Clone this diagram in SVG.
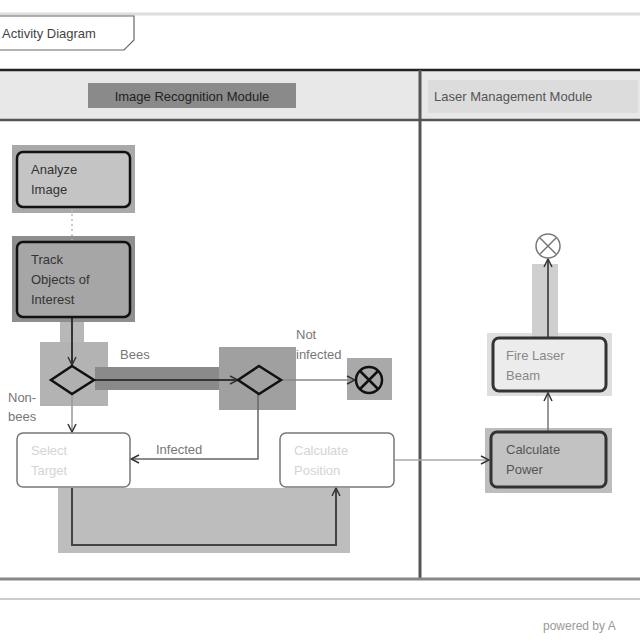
<svg xmlns="http://www.w3.org/2000/svg" width="640" height="640" viewBox="0 0 640 640">
<defs>
<style>
text{font-family:"Liberation Sans",Arial,sans-serif;font-size:13px;fill:#333}
.node{stroke:#111;stroke-width:2.5}
.faint{fill:#fff;stroke:#777;stroke-width:1.5}
.ftext{fill:#d4d4d4}
.lbl{fill:#777}
.conn{fill:none;stroke:#555;stroke-width:1.5}
.hl{fill:#a9a9a9}
</style>
<marker id="arr" markerWidth="10" markerHeight="10" refX="9" refY="5" orient="auto" markerUnits="userSpaceOnUse">
<path d="M1,1 L9,5 L1,9" fill="none" stroke="#333" stroke-width="1.5"/>
</marker>
</defs>
<rect width="640" height="640" fill="#fff"/>
<g id="frame">
<line x1="0" y1="14" x2="640" y2="14" stroke="#ddd" stroke-width="3"/>
<path d="M0,16 L134,16 L134,40 L124,50 L0,50" fill="#fff" stroke="#666" stroke-width="1.2"/>
<text x="2" y="38" style="fill:#444">Activity Diagram</text>
<rect x="0" y="70" width="640" height="50" fill="#e8e8e8"/>
<line x1="0" y1="70" x2="640" y2="70" stroke="#222" stroke-width="2.5"/>
<line x1="0" y1="120" x2="640" y2="120" stroke="#555" stroke-width="2.5"/>
<line x1="420" y1="70" x2="420" y2="580" stroke="#555" stroke-width="3"/>
<line x1="0" y1="579" x2="640" y2="579" stroke="#888" stroke-width="3"/>
<line x1="0" y1="599" x2="640" y2="599" stroke="#bbb" stroke-width="1.5"/>
<text x="543" y="630" style="font-size:12px;fill:#999">powered by A</text>
</g>
<g id="lane-image">
<rect x="88" y="83" width="208" height="25" fill="#8a8a8a"/>
<text x="192" y="101" text-anchor="middle" style="fill:#222">Image Recognition Module</text>
</g>
<g id="lane-laser">
<rect x="428" y="80" width="210" height="33" fill="#dcdcdc"/>
<text x="434" y="101" style="fill:#555">Laser Management Module</text>
</g>
<g id="highlights">
<rect class="hl" x="12" y="145" width="123" height="68"/>
<rect x="12" y="236" width="123" height="86" fill="#8e8e8e"/>
<rect x="60" y="322" width="24" height="25" fill="#b8b8b8"/>
<rect x="40" y="342" width="68" height="64" fill="#b3b3b3"/>
<rect x="95" y="367" width="145" height="23" fill="#8a8a8a"/>
<rect x="219" y="347" width="77" height="63" fill="#a0a0a0"/>
<rect x="347" y="358" width="45" height="42" fill="#a9a9a9"/>
<rect x="58" y="488" width="292" height="65" fill="#bdbdbd"/>
<rect x="485" y="428" width="127" height="65" fill="#bdbdbd"/>
<rect x="487" y="333" width="125" height="63" fill="#dedede"/>
<rect x="532" y="264" width="26" height="74" fill="#cfcfcf"/>
</g>
<g id="connectors">
<line class="conn" x1="72" y1="209" x2="72" y2="240" stroke-dasharray="2,3" style="stroke:#bbb"/>
<line class="conn" x1="72" y1="318" x2="72" y2="365" marker-end="url(#arr)" style="stroke:#333;stroke-width:2"/>
<line class="conn" x1="94" y1="380" x2="238" y2="380" marker-end="url(#arr)" style="stroke:#333;stroke-width:2"/>
<line class="conn" x1="281" y1="380" x2="355" y2="380" marker-end="url(#arr)" style="stroke:#888"/>
<polyline class="conn" points="258,394 258,459 131,459" marker-end="url(#arr)" style="stroke:#666"/>
<line class="conn" x1="72" y1="395" x2="72" y2="432" marker-end="url(#arr)" style="stroke:#999"/>
<polyline class="conn" points="72,488 72,545 336,545 336,488" marker-end="url(#arr)" style="stroke:#444;stroke-width:2"/>
<line class="conn" x1="395" y1="460" x2="489" y2="460" marker-end="url(#arr)" style="stroke:#aaa"/>
<line class="conn" x1="548" y1="432" x2="548" y2="393" marker-end="url(#arr)" style="stroke:#777"/>
<line class="conn" x1="548" y1="337" x2="548" y2="259" marker-end="url(#arr)" style="stroke:#555;stroke-width:2"/>
<text class="lbl" x="120" y="359">Bees</text>
<text class="lbl" x="296" y="339">Not</text>
<text class="lbl" x="296" y="359">infected</text>
<text class="lbl" x="8" y="402">Non-</text>
<text class="lbl" x="8" y="421">bees</text>
<text class="lbl" x="156" y="454">Infected</text>
</g>
<g id="analyze-image">
<rect class="node" x="17" y="152" width="113" height="55" rx="6" fill="#c4c4c4"/>
<text x="31" y="174">Analyze</text>
<text x="31" y="194">Image</text>
</g>
<g id="track-objects">
<rect class="node" x="17" y="242" width="113" height="75" rx="6" fill="#a6a6a6"/>
<text x="31" y="264">Track</text>
<text x="31" y="284">Objects of</text>
<text x="31" y="304">Interest</text>
</g>
<g id="decision-bees">
<polygon points="72,366 94,380 72,394 51,380" fill="#b0b0b0" stroke="#111" stroke-width="2.5"/>
</g>
<g id="decision-infected">
<polygon points="259,366 281,380 259,394 238,380" fill="#a0a0a0" stroke="#111" stroke-width="2.5"/>
</g>
<g id="final-left">
<circle cx="369" cy="380" r="13" fill="#a9a9a9" stroke="#111" stroke-width="2.5"/>
<path d="M360,371 L378,389 M378,371 L360,389" stroke="#111" stroke-width="2.5"/>
</g>
<g id="select-target">
<rect class="faint" x="17" y="433" width="113" height="54" rx="6"/>
<text class="ftext" x="31" y="455">Select</text>
<text class="ftext" x="31" y="475">Target</text>
</g>
<g id="calculate-position">
<rect class="faint" x="280" y="433" width="114" height="54" rx="6"/>
<text class="ftext" x="294" y="455">Calculate</text>
<text class="ftext" x="294" y="475">Position</text>
</g>
<g id="calculate-power">
<rect class="node" x="491" y="432" width="115" height="55" rx="6" fill="#c2c2c2" style="stroke:#333;stroke-width:3"/>
<text x="506" y="454" style="fill:#555">Calculate</text>
<text x="506" y="474" style="fill:#555">Power</text>
</g>
<g id="fire-laser">
<rect class="node" x="493" y="338" width="113" height="53" rx="6" fill="#ececec" style="stroke:#333;stroke-width:3"/>
<text x="506" y="360" style="fill:#888">Fire Laser</text>
<text x="506" y="380" style="fill:#888">Beam</text>
</g>
<g id="final-right">
<circle cx="548" cy="246" r="12" fill="#fff" stroke="#777" stroke-width="1.5"/>
<path d="M540,238 L556,254 M556,238 L540,254" stroke="#777" stroke-width="1.5"/>
</g>
</svg>
